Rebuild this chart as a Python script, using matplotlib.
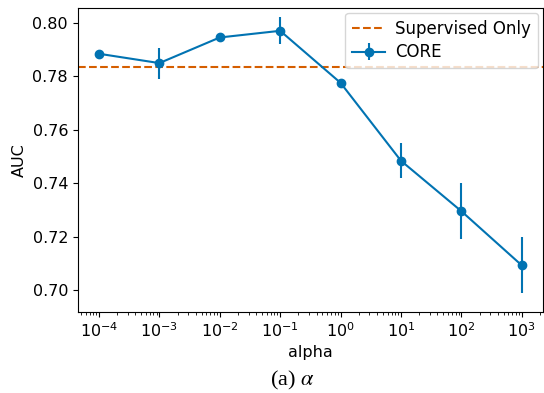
import matplotlib
matplotlib.use("Agg")
import matplotlib.pyplot as plt

# data
alpha = [1e-4, 1e-3, 1e-2, 1e-1, 1e0, 1e1, 1e2, 1e3]
auc = [0.7885, 0.7850, 0.7946, 0.7971, 0.7776, 0.7484, 0.7295, 0.7092]
auc_err = [0.0008, 0.0058, 0.0008, 0.0050, 0.0010, 0.0066, 0.0104, 0.0105]
supervised_only = 0.7835

blue = "#0173B2"
orange = "#D55E00"

plt.rcParams["mathtext.fontset"] = "stix"

fig = plt.figure(figsize=(5.44, 3.93), dpi=100)
ax = fig.add_axes([0.143, 0.206, 0.855, 0.774])

ax.axhline(supervised_only, color=orange, linestyle="--", linewidth=1.5, label="Supervised Only")
ax.errorbar(alpha, auc, yerr=auc_err, color=blue, marker="o", markersize=6,
            linewidth=1.5, elinewidth=1.5, label="CORE")
ax.set_xscale("log")
ax.set_ylim(0.6917, 0.8057)
ax.set_yticks([0.70, 0.72, 0.74, 0.76, 0.78, 0.80])
ax.tick_params(labelsize=11.5)
ax.set_xlabel("alpha", fontsize=11.5, labelpad=3)
ax.set_ylabel("AUC", fontsize=11.5)
ax.legend(loc="upper right", fontsize=12, borderaxespad=0.3, handletextpad=0.6,
          labelspacing=0.35)

fig.text(0.537, 0.02, r"(a) $\alpha$", ha="center", fontsize=16, family="Liberation Serif")

fig.savefig("out.png", dpi=100)
